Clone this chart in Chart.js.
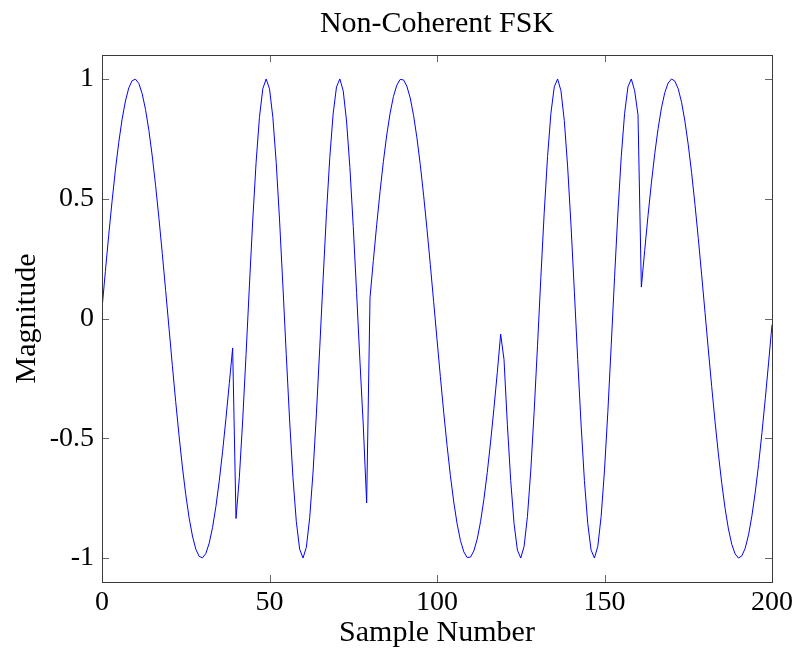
<!DOCTYPE html>
<html>
<head>
<meta charset="utf-8">
<title>Non-Coherent FSK</title>
<script src="https://cdn.jsdelivr.net/npm/chart.js@4.4.1/dist/chart.umd.min.js"></script>
<style>
    html, body { margin: 0; padding: 0; background: #fff; }
    canvas { display: block; }
</style>
</head>
<body>
<canvas id="fskChart" width="799" height="654"></canvas>
<script>
// Received waveform, one value per sample (sample number = array index)
const magnitude = [
    // samples 0-39 (low tone)
    0.040, 0.196, 0.347, 0.489, 0.620, 0.735, 0.832, 0.908, 0.963, 0.993,
    0.999, 0.981, 0.938, 0.872, 0.785, 0.678, 0.555, 0.418, 0.271, 0.117,
    -0.040, -0.196, -0.347, -0.489, -0.620, -0.735, -0.832, -0.908, -0.963, -0.993,
    -0.999, -0.981, -0.938, -0.872, -0.785, -0.678, -0.555, -0.418, -0.271, -0.123,
    // samples 40-79 (high tone)
    -0.835, -0.663, -0.424, -0.150, 0.136, 0.411, 0.652, 0.840, 0.959, 1.000,
    0.959, 0.840, 0.652, 0.411, 0.136, -0.150, -0.424, -0.663, -0.847, -0.963,
    -1.000, -0.955, -0.832, -0.641, -0.398, -0.122, 0.164, 0.437, 0.673, 0.855,
    0.967, 1.000, 0.951, 0.824, 0.630, 0.384, 0.108, -0.178, -0.449, -0.770,
    // samples 80-119 (low tone)
    0.087, 0.242, 0.391, 0.530, 0.656, 0.766, 0.857, 0.927, 0.974, 0.998,
    0.996, 0.970, 0.921, 0.848, 0.755, 0.643, 0.515, 0.375, 0.225, 0.070,
    -0.087, -0.242, -0.391, -0.530, -0.656, -0.766, -0.857, -0.927, -0.974, -0.998,
    -0.996, -0.970, -0.921, -0.848, -0.755, -0.643, -0.515, -0.375, -0.225, -0.065,
    // samples 120-160 (high tone)
    -0.171, -0.441, -0.676, -0.856, -0.967, -1.000, -0.951, -0.826, -0.633, -0.389,
    -0.114, 0.171, 0.441, 0.676, 0.856, 0.967, 1.000, 0.951, 0.826, 0.633,
    0.389, 0.114, -0.171, -0.441, -0.676, -0.856, -0.967, -1.000, -0.951, -0.826,
    -0.633, -0.389, -0.114, 0.171, 0.441, 0.676, 0.856, 0.967, 1.000, 0.951,
    0.850,
    // samples 161-200 (low tone)
    0.131, 0.284, 0.431, 0.566, 0.688, 0.793, 0.879, 0.943, 0.983, 1.000,
    0.991, 0.959, 0.903, 0.824, 0.725, 0.609, 0.477, 0.334, 0.182, 0.026,
    -0.131, -0.284, -0.431, -0.566, -0.688, -0.793, -0.879, -0.943, -0.983, -1.000,
    -0.991, -0.959, -0.903, -0.824, -0.725, -0.609, -0.477, -0.334, -0.182, -0.026
];

const xTicks = [0, 50, 100, 150, 200];
const yTicks = [-1, -0.5, 0, 0.5, 1];
const yTickLabels = ['-1', '-0.5', '0', '0.5', '1'];
const chartTitle = 'Non-Coherent FSK';

const serif = "'Liberation Serif', 'Times New Roman', serif";

// MATLAB style box with inward ticks on all four sides, title centred over the axes
const axesBox = {
    id: 'axesBox',
    afterDraw(chart) {
        const { ctx, chartArea: a, scales: { x, y } } = chart;
        const len = 7;
        ctx.save();
        ctx.lineWidth = 1;
        ctx.strokeStyle = '#666';
        ctx.beginPath();
        xTicks.forEach(v => {
            const px = Math.round(x.getPixelForValue(v)) + 0.5;
            ctx.moveTo(px, a.bottom); ctx.lineTo(px, a.bottom - len);
            ctx.moveTo(px, a.top); ctx.lineTo(px, a.top + len);
        });
        yTicks.forEach(v => {
            const py = Math.round(y.getPixelForValue(v)) + 0.5;
            ctx.moveTo(a.left, py); ctx.lineTo(a.left + len, py);
            ctx.moveTo(a.right, py); ctx.lineTo(a.right - len, py);
        });
        ctx.stroke();
        ctx.strokeStyle = '#3a3a3a';
        ctx.strokeRect(Math.round(a.left) + 0.5, Math.round(a.top) + 0.5,
            Math.round(a.right - a.left), Math.round(a.bottom - a.top));

        ctx.fillStyle = '#000';
        ctx.font = '30px ' + serif;
        ctx.textAlign = 'center';
        ctx.textBaseline = 'middle';
        ctx.fillText(chartTitle, (a.left + a.right) / 2, 24);
        ctx.restore();
    }
};

new Chart(document.getElementById('fskChart'), {
    type: 'line',
    data: {
        datasets: [{
            data: magnitude.map((v, i) => ({ x: i, y: v })),
            borderColor: '#0000ff',
            borderWidth: 1,
            pointRadius: 0,
            tension: 0,
            fill: false
        }]
    },
    options: {
        responsive: false,
        animation: false,
        layout: { padding: { left: 0, right: 27, top: 55, bottom: 0 } },
        plugins: {
            legend: { display: false },
            tooltip: { enabled: false },
            title: { display: false }
        },
        scales: {
            x: {
                type: 'linear',
                min: 0,
                max: 200,
                afterBuildTicks: scale => { scale.ticks = xTicks.map(v => ({ value: v })); },
                afterFit: scale => { scale.height = 72; },
                grid: { display: false, drawTicks: false },
                border: { display: false },
                ticks: {
                    color: '#000',
                    padding: 4,
                    maxRotation: 0,
                    font: { family: serif, size: 28 }
                },
                title: {
                    display: true,
                    text: 'Sample Number',
                    color: '#000',
                    font: { family: serif, size: 30 },
                    padding: { top: 0, bottom: 3 }
                }
            },
            y: {
                type: 'linear',
                min: -1.1,
                max: 1.1,
                afterBuildTicks: scale => { scale.ticks = yTicks.map(v => ({ value: v })); },
                afterFit: scale => { scale.width = 102; },
                grid: { display: false, drawTicks: false },
                border: { display: false },
                ticks: {
                    color: '#000',
                    padding: 8,
                    font: { family: serif, size: 28 },
                    callback: value => yTickLabels[yTicks.indexOf(value)]
                },
                title: {
                    display: true,
                    text: 'Magnitude',
                    color: '#000',
                    font: { family: serif, size: 30 },
                    padding: { top: 9, bottom: 0 }
                }
            }
        }
    },
    plugins: [axesBox]
});
</script>
</body>
</html>
